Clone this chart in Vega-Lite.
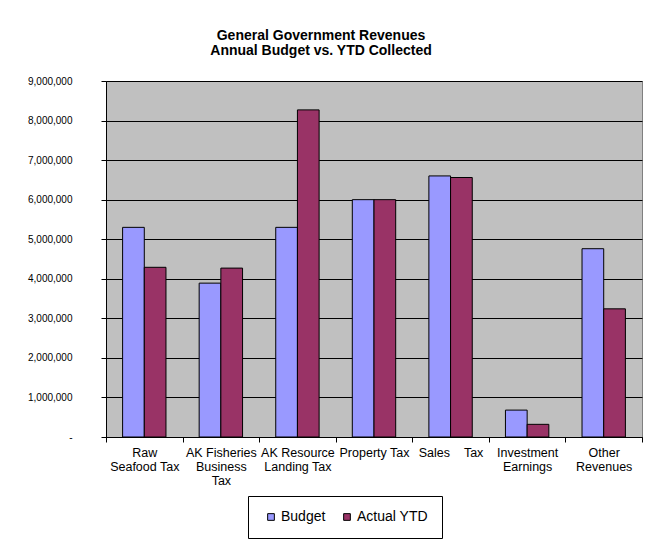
{
  "$schema": "https://vega.github.io/schema/vega-lite/v6.json",
  "width": 536,
  "height": 356,
  "autosize": {"type": "none"},
  "padding": {"left": 106, "top": 81, "right": 13, "bottom": 103},
  "background": "white",
  "title": {
    "text": ["General Government Revenues", "Annual Budget vs. YTD Collected"],
    "anchor": "middle",
    "frame": "group",
    "dx": -53,
    "offset": 18,
    "font": "Liberation Sans",
    "fontSize": 14,
    "fontWeight": "bold",
    "lineHeight": 15,
    "color": "black"
  },
  "data": {
    "values": [
      {"category": "Raw Seafood Tax", "series": "Budget", "amount": 5300000},
      {"category": "Raw Seafood Tax", "series": "Actual YTD", "amount": 4290000},
      {"category": "AK Fisheries Business Tax", "series": "Budget", "amount": 3890000},
      {"category": "AK Fisheries Business Tax", "series": "Actual YTD", "amount": 4270000},
      {"category": "AK Resource Landing Tax", "series": "Budget", "amount": 5300000},
      {"category": "AK Resource Landing Tax", "series": "Actual YTD", "amount": 8270000},
      {"category": "Property Tax", "series": "Budget", "amount": 6000000},
      {"category": "Property Tax", "series": "Actual YTD", "amount": 6000000},
      {"category": "Sales Tax", "series": "Budget", "amount": 6600000},
      {"category": "Sales Tax", "series": "Actual YTD", "amount": 6560000},
      {"category": "Investment Earnings", "series": "Budget", "amount": 680000},
      {"category": "Investment Earnings", "series": "Actual YTD", "amount": 320000},
      {"category": "Other Revenues", "series": "Budget", "amount": 4760000},
      {"category": "Other Revenues", "series": "Actual YTD", "amount": 3240000}
    ]
  },
  "mark": {"type": "bar", "stroke": "black", "strokeWidth": 1},
  "encoding": {
    "x": {
      "field": "category",
      "type": "nominal",
      "sort": null,
      "scale": {"paddingInner": 0, "paddingOuter": 0},
      "axis": {
        "title": null,
        "labelAngle": 0,
        "tickBand": "extent",
        "grid": false,
        "domainColor": "black",
        "tickColor": "black",
        "tickSize": 5,
        "labelPadding": 4,
        "labelFont": "Liberation Sans",
        "labelFontSize": 12.5,
        "labelColor": "black",
        "labelLineHeight": 14,
        "labelLimit": 0,
        "labelExpr": "!datum.value ? '' : split(datum.value == 'Raw Seafood Tax' ? 'Raw|Seafood Tax' : datum.value == 'AK Fisheries Business Tax' ? 'AK Fisheries|Business|Tax' : datum.value == 'AK Resource Landing Tax' ? 'AK Resource|Landing Tax' : datum.value == 'Sales Tax' ? 'Sales\u00a0\u00a0\u00a0\u00a0Tax' : datum.value == 'Investment Earnings' ? 'Investment|Earnings' : datum.value == 'Other Revenues' ? 'Other|Revenues' : datum.value, '|')"
      }
    },
    "xOffset": {
      "field": "series",
      "type": "nominal",
      "sort": ["Budget", "Actual YTD"],
      "scale": {"paddingInner": 0, "paddingOuter": 0.765}
    },
    "y": {
      "field": "amount",
      "type": "quantitative",
      "scale": {"domain": [0, 9000000], "nice": false},
      "axis": {
        "title": null,
        "values": [0, 1000000, 2000000, 3000000, 4000000, 5000000, 6000000, 7000000, 8000000, 9000000],
        "grid": true,
        "gridColor": "black",
        "gridOpacity": 1,
        "gridWidth": 1,
        "domainColor": "black",
        "tickColor": "black",
        "tickSize": 5,
        "labelPadding": 29,
        "labelFont": "Liberation Sans",
        "labelFontSize": 10,
        "labelColor": "black",
        "labelExpr": "datum.value == 0 ? '-' : format(datum.value, ',')"
      }
    },
    "color": {
      "field": "series",
      "type": "nominal",
      "scale": {"domain": ["Budget", "Actual YTD"], "range": ["#9999FF", "#993366"]},
      "legend": {
        "title": null,
        "orient": "none",
        "legendX": 142,
        "legendY": 415,
        "direction": "horizontal",
        "symbolType": "square",
        "symbolSize": 45,
        "symbolOffset": 2,
        "symbolStrokeColor": "black",
        "symbolStrokeWidth": 1,
        "symbolOpacity": 1,
        "labelFont": "Liberation Sans",
        "labelFontSize": 14,
        "labelColor": "black",
        "labelOffset": 3,
        "columnPadding": 12,
        "padding": 14,
        "strokeColor": "black",
        "fillColor": "white"
      }
    }
  },
  "config": {
    "view": {"fill": "#C0C0C0", "stroke": "#808080", "strokeWidth": 1}
  }
}
